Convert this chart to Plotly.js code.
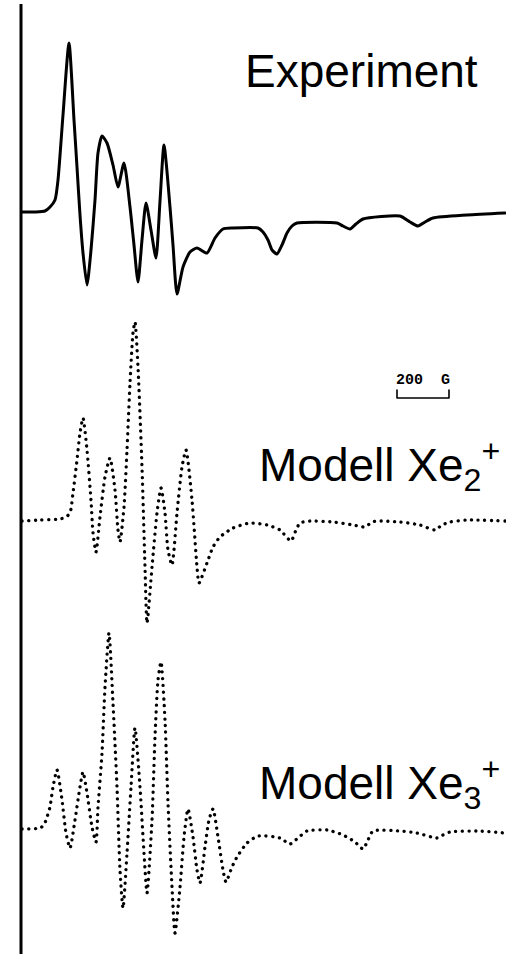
<!DOCTYPE html>
<html>
<head>
<meta charset="utf-8">
<script src="https://cdn.plot.ly/plotly-3.0.1.min.js"></script>
<style>
html,body{margin:0;padding:0;background:#fff;}
#chart{width:506px;height:954px;}
#chart path.js-line{stroke-linecap:round;stroke-linejoin:round;}
</style>
</head>
<body>
<div id="chart"></div>
<script>
// Magnetic field position (arbitrary units along the sweep) and signal (arbitrary units)
const expField = [22,35,45,50,55,58,63,69,74,77,80,83,87,91,95,98,102,107,113,118,124,130,134,138,142,146,151,156,160,164,170,173,177,183,190,197,207,215,223,233,258,263,268,272,277,282,287,292,297,337,343,350,356,363,400,410,418,425,433,467,505];
const expSignal = [1,1,2,6,13,33,98,170,93,46,-2,-40,-72,-37,13,60,77,70,48,26,50,6,-32,-69,-27,10,-17,-45,12,68,6,-32,-81,-54,-39,-35,-40,-25,-16,-15,-15,-19,-27,-37,-41,-32,-20,-13,-10,-10,-13,-16,-11,-6,-3,-9,-13,-9,-5,-2,0];

const xe2Field = [22,40,60,66,70,73,77,80,83,87,91,93,96,100,105,110,115,118,120,124,127,130,133,135,138,142,145,147,152,157,161,165,168,172,177,182,186,192,197,199,207,213,220,233,250,267,280,291,296,300,310,333,353,365,372,377,400,420,435,442,450,467,505];
const xe2Signal = [0,1,2,4,8,28,61,88,103,71,21,-12,-31,4,44,63,31,-9,-21,14,71,138,188,199,154,54,-46,-102,-46,8,33,8,-29,-44,8,54,71,21,-46,-62,-42,-26,-16,-7,-2,-4,-9,-20,-9,-2,0,-1,-4,-6,-1,0,-1,-4,-9,-4,-1,1,0];

const xe3Field = [22,40,44,47,50,53,57,62,66,70,75,80,83,87,92,96,98,102,105,109,113,117,120,123,127,131,135,140,144,147,152,155,158,161,165,168,172,175,180,184,188,193,197,200,205,209,213,218,223,226,232,237,247,258,280,290,298,307,327,343,355,363,368,373,400,417,437,443,450,477,505];
const xe3Signal = [0,1,4,12,22,42,59,29,-4,-19,9,42,57,36,2,-13,22,76,142,196,126,42,-41,-79,-24,42,101,42,-24,-64,9,92,149,167,109,26,-58,-104,-58,-8,20,-8,-41,-54,-18,9,20,-8,-41,-53,-38,-28,-14,-7,-9,-15,-9,-2,-1,-6,-13,-20,-11,-2,-2,-4,-9,-6,-3,-2,-4];

const labels = ['Experiment', 'Modell Xe<sub>2</sub><sup>+</sup>', 'Modell Xe<sub>3</sub><sup>+</sup>'];
const scaleLabel = '<b>200\u00a0\u00a0G</b>';
const scaleBarLengthG = 200;

// layout constants
const W = 506, H = 954;
const baselines = [213, 521, 829]; // pixel rows of each baseline
const unitsPerG = 52 / 200;        // sweep units per gauss

function yr(b){ return [b - H, b]; }

const lineBase = {color:'#000', shape:'spline', smoothing:0.6};
const dotted = '0.1px,6.6px';

const traces = [
  {x:expField, y:expSignal, yaxis:'y', mode:'lines', line:Object.assign({}, lineBase, {width:3}), hoverinfo:'skip'},
  {x:xe2Field, y:xe2Signal, yaxis:'y2', mode:'lines', line:Object.assign({}, lineBase, {width:3.3, dash:dotted}), hoverinfo:'skip'},
  {x:xe3Field, y:xe3Signal, yaxis:'y3', mode:'lines', line:Object.assign({}, lineBase, {width:3.3, dash:dotted}), hoverinfo:'skip'}
];

// scale bar (200 G), drawn in the Xe2 panel coordinates
const sbX0 = 397, sbX1 = sbX0 + scaleBarLengthG * unitsPerG;
traces.push({x:[sbX0, sbX0, sbX1, sbX1], y:[131,123,123,131], yaxis:'y2', mode:'lines',
  line:{color:'#000', width:1.6}, hoverinfo:'skip'});

const hidden = {visible:false, fixedrange:true};
const labelFont = {family:'Liberation Sans, Arial, sans-serif', size:46, color:'#000'};
const layout = {
  width:W, height:H,
  margin:{l:0,r:0,t:0,b:0,pad:0},
  paper_bgcolor:'#fff', plot_bgcolor:'#fff',
  showlegend:false,
  xaxis:Object.assign({range:[0,W]}, hidden),
  yaxis:Object.assign({range:yr(baselines[0]), domain:[0,1]}, hidden),
  yaxis2:Object.assign({range:yr(baselines[1]), domain:[0,1], overlaying:'y'}, hidden),
  yaxis3:Object.assign({range:yr(baselines[2]), domain:[0,1], overlaying:'y'}, hidden),
  shapes:[{type:'line', xref:'x', yref:'paper', x0:21, x1:21, y0:0, y1:1-4/H, line:{color:'#000', width:3}}],
  annotations:[
    {text:labels[0], xref:'x', yref:'paper', x:480, y:1-71/H, xanchor:'right', yanchor:'middle', showarrow:false, font:labelFont},
    {text:labels[1], xref:'x', yref:'paper', x:502, y:1-466/H, xanchor:'right', yanchor:'middle', showarrow:false, font:labelFont},
    {text:labels[2], xref:'x', yref:'paper', x:502, y:1-783/H, xanchor:'right', yanchor:'middle', showarrow:false, font:labelFont},
    {text:scaleLabel, xref:'x', yref:'paper', x:(sbX0+sbX1)/2, y:1-380/H, xanchor:'center', yanchor:'middle', showarrow:false,
     font:{family:'Liberation Mono, DejaVu Sans Mono, monospace', size:15, color:'#000'}}
  ]
};

Plotly.newPlot('chart', traces, layout, {staticPlot:true, displayModeBar:false});
</script>
</body>
</html>
